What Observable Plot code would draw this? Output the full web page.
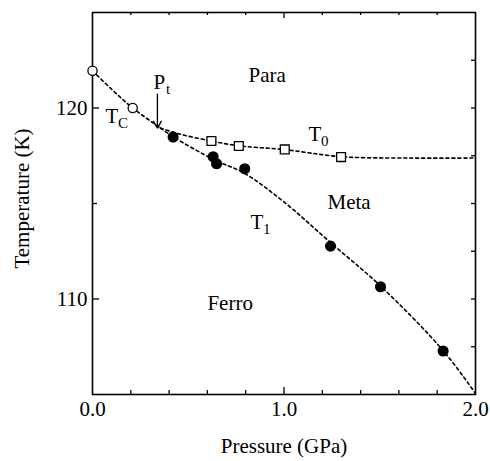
<!DOCTYPE html>
<html>
<head>
<meta charset="utf-8">
<script src="https://cdn.jsdelivr.net/npm/d3@7"></script>
<script src="https://cdn.jsdelivr.net/npm/@observablehq/plot@0.6"></script>
<style>
  html, body { margin: 0; padding: 0; background: #fff; }
  #chart svg, #chart svg text, #chart svg g {
    font-family: "Liberation Serif", "Times New Roman", Times, "DejaVu Serif", "Noto Serif", serif !important;
  }
</style>
</head>
<body>
<div id="chart"></div>
<script>
// Tc (open circles)
const tcP = [0.0, 0.21];
const tcT = [121.95, 120.0];
// T1 (filled circles)
const t1P = [0.421, 0.630, 0.648, 0.795, 1.243, 1.504, 1.831];
const t1T = [118.48, 117.45, 117.08, 116.82, 112.77, 110.64, 107.28];
// T0 (open squares)
const t0P = [0.621, 0.764, 1.004, 1.298];
const t0T = [118.27, 118.01, 117.83, 117.43];

// dashed guide curves
const curveTcP = [0.0, 0.1, 0.21, 0.355];
const curveTcT = [121.95, 120.98, 120.0, 118.95];
const curveT0P = [0.355, 0.45, 0.621, 0.764, 1.004, 1.298, 1.65, 2.0];
const curveT0T = [118.95, 118.65, 118.27, 118.02, 117.82, 117.45, 117.38, 117.38];
const curveT1P = [0.355, 0.423, 0.637, 0.79, 1.0, 1.243, 1.504, 1.831, 2.0];
const curveT1T = [118.95, 118.48, 117.28, 116.6, 115.08, 112.95, 110.68, 107.3, 105.05];

// annotation labels
const labelText = ["Para", "P", "T", "T", "Meta", "T", "Ferro"];
const labelSub  = ["", "t", "C", "0", "", "1", ""];
const labelP    = [0.815, 0.319, 0.068, 1.128, 1.227, 0.825, 0.6];
const labelT    = [121.36, 121.0, 119.21, 118.27, 114.71, 113.66, 109.42];

// arrow at Pt
const arrowP = [0.339];
const arrowT1 = [120.73];
const arrowT2 = [118.95];

// tick values
const xLabelTicks = [0, 1, 2];
const xMinorTicks = [0.2, 0.4, 0.6, 0.8, 1.2, 1.4, 1.6, 1.8];
const xMajorTicks = [1.0];
const yLabelTicks = [110, 120];
const yLeftMinor = [115];
const yRightTicks = [107.5, 110, 112.5, 115, 117.5, 120, 122.5];

const W = 490, H = 461;
const mL = 92, mR = 15, mT = 12, mB = 67;
const pw = W - mL - mR, ph = H - mT - mB;

const zip = (a, b) => a.map((v, i) => ({p: v, t: b[i]}));
const labels = labelText.map((s, i) => ({s, sub: labelSub[i], p: labelP[i], t: labelT[i]}));

const dash = {stroke: "black", strokeWidth: 1.6, strokeDasharray: "3,3", curve: "catmull-rom"};
const serif = "Liberation Serif, Times New Roman, DejaVu Serif, serif";

const chart = Plot.plot({
  width: W, height: H,
  marginLeft: mL, marginRight: mR, marginTop: mT, marginBottom: mB,
  style: {fontFamily: serif, fontSize: "21px", color: "black", background: "white"},
  x: {domain: [0, 2], ticks: xLabelTicks, tickFormat: d3.format(".1f"), tickSize: 0, tickPadding: 7, label: null},
  y: {domain: [105, 125], ticks: yLabelTicks, tickFormat: d3.format("d"), tickSize: 0, tickPadding: 5, label: null},
  marks: [
    // inward ticks
    Plot.tickX(xMinorTicks, {x: d => d, insetTop: ph - 4, stroke: "black", strokeWidth: 1.3}),
    Plot.tickX(xMajorTicks, {x: d => d, insetTop: ph - 7, stroke: "black", strokeWidth: 1.3}),
    Plot.tickX(xMinorTicks, {x: d => d, insetBottom: ph - 3, stroke: "black", strokeWidth: 1.3}),
    Plot.tickX(xMajorTicks, {x: d => d, insetBottom: ph - 6, stroke: "black", strokeWidth: 1.3}),
    Plot.tickY(yLabelTicks, {y: d => d, insetRight: pw - 7, stroke: "black", strokeWidth: 1.3}),
    Plot.tickY(yLeftMinor, {y: d => d, insetRight: pw - 5, stroke: "black", strokeWidth: 1.3}),
    Plot.tickY(yRightTicks, {y: d => d, insetLeft: pw - 4, stroke: "black", strokeWidth: 1.3}),
    Plot.frame({stroke: "black", strokeWidth: 1.6}),
    // dashed curves
    Plot.line(zip(curveTcP, curveTcT), {x: "p", y: "t", ...dash}),
    Plot.line(zip(curveT0P, curveT0T), {x: "p", y: "t", ...dash}),
    Plot.line(zip(curveT1P, curveT1T), {x: "p", y: "t", ...dash}),
    // data symbols
    Plot.dot(zip(tcP, tcT), {x: "p", y: "t", r: 4.6, fill: "white", stroke: "black", strokeWidth: 1.3}),
    Plot.dot(zip(t0P, t0T), {x: "p", y: "t", symbol: "square", r: 5.0, fill: "white", stroke: "black", strokeWidth: 1.3}),
    Plot.dot(zip(t1P, t1T), {x: "p", y: "t", r: 4.8, fill: "black", stroke: "black"}),
    // arrow
    Plot.arrow(arrowP.map((p, i) => ({p, a: arrowT1[i], b: arrowT2[i]})), {x1: "p", y1: "a", x2: "p", y2: "b", stroke: "black", strokeWidth: 1.3, headLength: 9}),
    // labels
    Plot.text(labels, {x: "p", y: "t", text: "s", textAnchor: "start", lineAnchor: "bottom", fill: "black", fontSize: 21}),
    Plot.text(labels.filter(d => d.sub), {x: "p", y: "t", text: "sub", textAnchor: "start", lineAnchor: "bottom", dx: 12.5, dy: 5, fill: "black", fontSize: 15}),
    // axis titles
    Plot.text(["Pressure (GPa)"], {frameAnchor: "bottom", dy: 58, lineAnchor: "bottom", textAnchor: "middle", fill: "black", fontSize: 21}),
    Plot.text(["Temperature (K)"], {frameAnchor: "left", rotate: -90, dx: -64, dy: -5, lineAnchor: "bottom", textAnchor: "middle", fill: "black", fontSize: 21})
  ]
});
document.getElementById("chart").appendChild(chart);
</script>
</body>
</html>
